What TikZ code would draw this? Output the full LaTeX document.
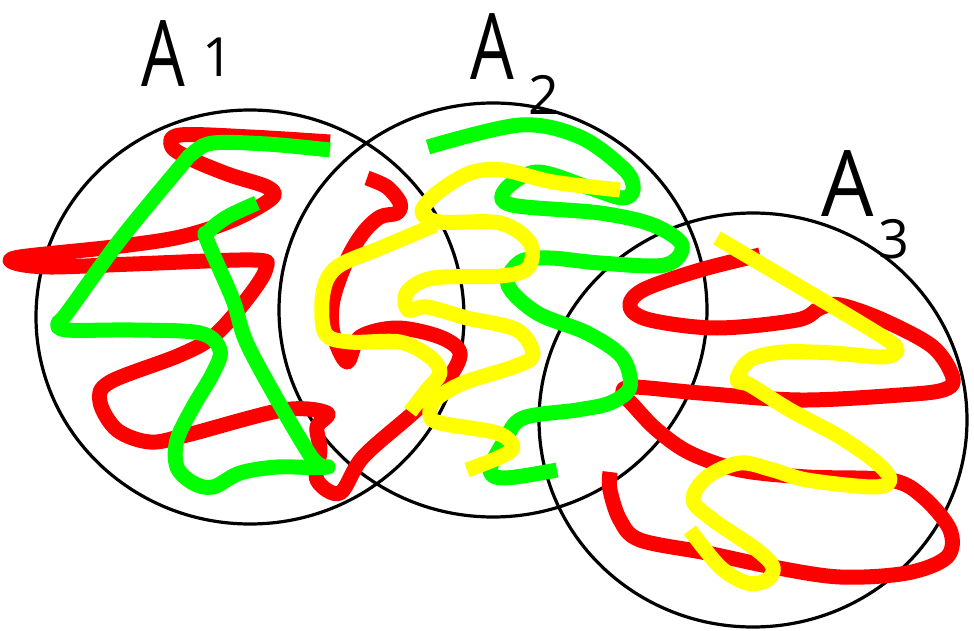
\documentclass[tikz,border=0pt]{standalone}
\usepackage{fontspec}
\usepackage{tikz}
\newfontfamily\handfont{Open Sans}

\begin{document}
\begin{tikzpicture}[x=1pt,y=-1pt]

% Colori
\definecolor{colRed}{HTML}{FF0000}
\definecolor{colGreen}{HTML}{00FF00}
\definecolor{colYellow}{HTML}{FFFF00}

\tikzset{
  setline/.style={draw=black, line width=3.2pt},
  scribble/.style={line width=15pt, line join=round, line cap=butt},
  redline/.style={scribble, draw=colRed},
  greenline/.style={scribble, draw=colGreen},
  yellowline/.style={scribble, draw=colYellow},
  lblA/.style={font=\handfont\fontsize{92}{92}\selectfont, inner sep=0pt, anchor=base},
  lblnum/.style={font=\handfont\fontsize{54}{54}\selectfont, inner sep=0pt, anchor=base}
}

% Raggi degli insiemi
\def\rx{214pt}
\def\ry{207pt}

\useasboundingbox (0,0) rectangle (974,631);

% Insiemi
\draw[setline] (250,317) ellipse [x radius=\rx, y radius=\ry];
\draw[setline] (493,310) ellipse [x radius=\rx, y radius=\ry];
\draw[setline] (753,420) ellipse [x radius=\rx, y radius=\ry];

% Etichette
\node[lblA] (a1) at (163,87) {\scalebox{0.75}[1]{A}};
\node[lblnum] (n1) at (218,77) {1};
\node[lblA] (a2) at (492,80) {\scalebox{0.75}[1]{A}};
\node[lblnum] (n2) at (544,115) {2};
\node[lblA] (a3) at (848,217) {\scalebox{0.9}[1]{A}};
\node[lblnum] (n3) at (894,258) {3};

% Tratti rossi
\draw[redline] plot[smooth, tension=0.55] coordinates {
  (330,142) (250,137) (180,135) (172,147) (193,160) (230,175) (267,187)
  (272,198) (233,220) (180,237) (113,247) (20,257) (15,263) (50,267)
  (133,264) (253,260) (266,268) (250,295) (215,335) (180,355) (110,382)
  (100,402) (117,430) (150,442) (187,435) (283,410) (327,413) (317,427)
  (320,450) (317,480) (340,493) (363,457) (413,413) (447,380) (460,353)
  (440,337) (397,328) (360,337) (347,362) (333,333) (333,300) (347,260)
  (363,233) (380,217) (397,213) (400,203) (387,187) (367,178)};
\draw[redline] plot[smooth, tension=0.55] coordinates {
  (760,255) (700,270) (643,290) (630,307) (650,320) (717,328) (797,320)
  (820,308) (840,305) (883,320) (933,347) (953,378) (943,390) (900,395)
  (800,400) (700,393) (633,387) (623,393) (633,405) (657,430) (690,453)
  (740,470) (807,477) (890,480) (923,497) (950,530) (947,557) (907,573)
  (840,577) (773,567) (707,553) (640,540) (620,520) (610,490) (610,472)};

% Tratti verdi
\draw[greenline] plot[smooth, tension=0.55] coordinates {
  (330,150) (267,144) (213,143) (193,153) (180,167) (120,240) (67,313)
  (58,323) (67,330) (133,330) (200,333) (220,350) (213,373) (193,407)
  (177,440) (177,467) (193,483) (213,487) (240,473) (277,467) (327,467)
  (310,455) (250,350) (233,300) (207,240) (208,232) (227,217) (257,203)};
\draw[greenline] plot[smooth, tension=0.55] coordinates {
  (428,147) (520,125) (580,137) (625,170) (633,190) (622,198) (590,188)
  (537,172) (505,190) (512,205) (600,213) (653,225) (682,245) (665,265)
  (600,263) (550,258) (520,262) (508,285) (537,313) (587,333) (622,357)
  (630,387) (610,403) (577,410) (523,418) (505,440) (490,470) (505,478)
  (557,470)};

% Tratti gialli
\draw[yellowline] plot[smooth, tension=0.55] coordinates {
  (620,190) (553,182) (503,170) (470,173) (437,193) (422,212) (440,222)
  (500,223) (530,243) (528,268) (500,276) (433,278) (407,292) (408,310)
  (427,307) (467,318) (517,330) (533,355) (513,367) (463,383) (435,400)
  (430,415) (440,423) (497,433) (513,447) (500,457) (467,470)};
\draw[yellowline] plot[smooth, tension=0.55] coordinates {
  (435,225) (383,247) (337,267) (323,293) (325,333) (350,342) (400,342)
  (430,357) (440,373) (427,390) (410,412)};
\draw[yellowline] plot[smooth, tension=0.55] coordinates {
  (717,238) (800,287) (883,337) (897,350) (883,357) (833,353) (783,352)
  (750,360) (737,380) (750,385) (790,410) (840,437) (877,463) (890,480)
  (873,487) (807,480) (773,470) (740,463) (707,477) (693,500) (713,520)
  (757,550) (773,567) (767,580) (747,583) (720,567) (690,530)};

\end{tikzpicture}
\end{document}
